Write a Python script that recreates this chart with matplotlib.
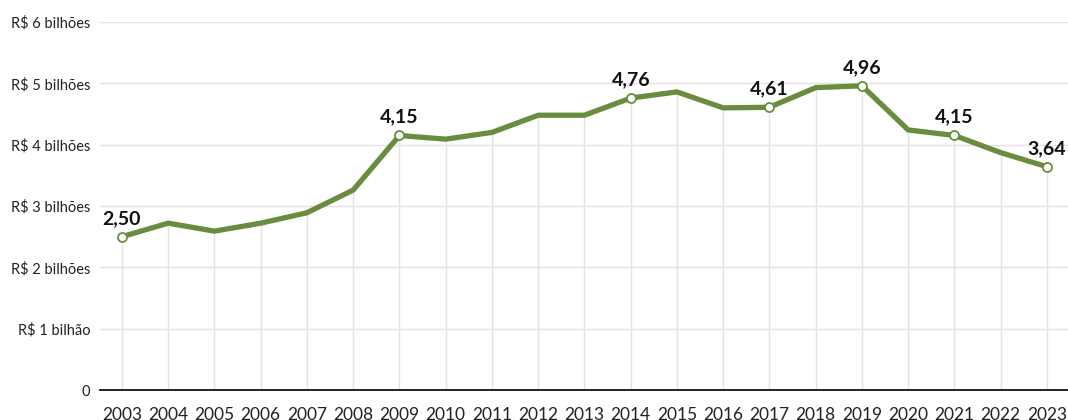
import matplotlib
matplotlib.use("Agg")
import matplotlib.pyplot as plt

years = list(range(2003, 2024))
values = [2.50, 2.72, 2.59, 2.72, 2.89, 3.26, 4.15, 4.09, 4.20, 4.48, 4.48,
          4.76, 4.86, 4.60, 4.61, 4.93, 4.96, 4.24, 4.15, 3.87, 3.64]
labeled_years = [2003, 2009, 2014, 2017, 2019, 2021, 2023]
y_ticks = [0, 1, 2, 3, 4, 5, 6]
y_tick_labels = ["0", "R$ 1 bilhão", "R$ 2 bilhões", "R$ 3 bilhões",
                 "R$ 4 bilhões", "R$ 5 bilhões", "R$ 6 bilhões"]

plt.rcParams['font.family'] = ['Lato', 'DejaVu Sans']
green = "#6a8c3e"

fig = plt.figure(figsize=(10.68, 4.20), dpi=100)
ax = fig.add_axes([100/1068, (420-390)/420, 1 - 100/1068, (390-22)/420])

ax.set_xlim(2002.525, 2023.455)
ax.set_ylim(0, 6)

for yv in y_ticks[1:]:
    ax.axhline(yv, color="#e3e3e3", lw=1, zorder=1)
ax.vlines(years, 0, values, color="#e3e3e3", lw=1, zorder=1)

ax.plot(years, values, color=green, lw=3.8, zorder=3, solid_joinstyle='miter')

for yr, v in zip(years, values):
    if yr in labeled_years:
        ax.plot([yr], [v], marker='o', ms=6.5, mfc='white', mec=green, mew=1.3, zorder=4)
        ax.annotate(f"{v:.2f}".replace('.', ','), (yr, v), xytext=(0, 7),
                    textcoords='offset points', ha='center', va='bottom',
                    fontsize=14, fontweight='bold', color='#111111', zorder=5,
                    annotation_clip=False)

ax.set_yticks(y_ticks)
ax.set_yticklabels(y_tick_labels, fontsize=10.5, color='#222222')
ax.set_xticks(years)
ax.set_xticklabels([str(y) for y in years], fontsize=12.5, color='#222222')
ax.tick_params(axis='y', length=0, pad=7)
ax.tick_params(axis='x', length=0, pad=12)

for s in ['top', 'right', 'left']:
    ax.spines[s].set_visible(False)
ax.spines['bottom'].set_color('#111111')
ax.spines['bottom'].set_linewidth(1.3)
ax.spines['bottom'].set_zorder(6)

fig.savefig("out.png", dpi=100, facecolor='white')
